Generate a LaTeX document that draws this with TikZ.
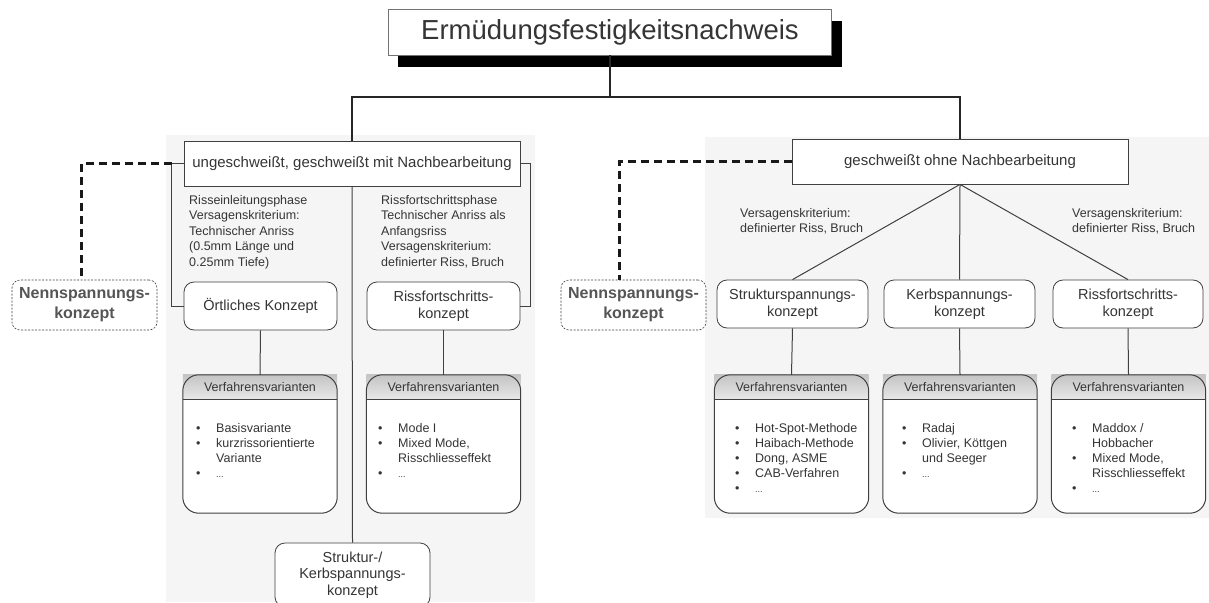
\documentclass[tikz,border=0pt]{standalone}
\usepackage{fontspec}
\setmainfont{Liberation Sans}
\usetikzlibrary{backgrounds}
\definecolor{txt}{HTML}{353535}
\definecolor{linec}{HTML}{404040}
\definecolor{bgc}{HTML}{F5F5F5}
\definecolor{nenc}{HTML}{555555}
\definecolor{hdtop}{HTML}{C4C4C4}
\definecolor{hdbot}{HTML}{E8E8E8}
\newcommand\myfs[2]{\fontsize{#1}{#2}\selectfont}
\newcommand\itm[1]{\makebox[20pt][l]{\textbullet}#1}
\newcommand\cnt[1]{\hspace*{20pt}#1}
\newcommand\etc{{\myfs{9}{15}...}}
\tikzset{
  titlebox/.style={draw=black!55, line width=0.8pt, fill=white, text=txt,
    minimum width=443pt, minimum height=46pt, inner sep=0pt, font=\myfs{27.5}{30}},
  plainbox/.style={draw=linec, line width=0.8pt, fill=white, text=txt, align=center,
    inner sep=0pt, font=\myfs{15}{18}, minimum width=336pt, minimum height=45pt},
  concept/.style={draw=linec, line width=0.8pt, fill=white, text=txt, align=center,
    inner sep=0pt, rounded corners=10pt, font=\myfs{14.5}{16.5}, minimum height=48pt},
  nenn/.style={draw=linec, dash pattern=on 2pt off 1.5pt, line width=0.6pt,
    rounded corners=8pt, fill=white, text=nenc, font=\bfseries\myfs{16}{20},
    align=center, inner sep=0pt, minimum width=145pt, minimum height=50pt},
  conn/.style={draw=linec, line width=1pt},
  thickconn/.style={draw=black!85, line width=2pt},
  dashconn/.style={draw=black!90, line width=2.4pt, dash pattern=on 8pt off 5pt},
  note/.style={text=txt, align=left, inner sep=0pt, anchor=north west, font=\myfs{12.5}{15.5}},
  verf/.style={minimum width=154pt, minimum height=138pt, inner sep=0pt},
  hdtext/.style={text=txt, inner sep=0pt, font=\myfs{12.5}{15}},
  items/.style={text=txt, align=left, inner sep=0pt, anchor=north west, font=\myfs{12.5}{15}}
}
\newcommand\verfbox[4]{%
  \node[verf] (#1) at (#2,444) {};
  \fill[white, rounded corners=16pt] (#1.north west) rectangle (#1.south east);
  \fill[top color=hdtop, bottom color=hdbot] (#1.north west) rectangle ([yshift=-25pt]#1.north east);
  \draw[conn, rounded corners=16pt] (#1.north west) rectangle (#1.south east);
  \draw[conn] ([yshift=-25pt]#1.north west) -- ([yshift=-25pt]#1.north east);
  \node[hdtext] (#1h) at ([yshift=-12.5pt]#1.north) {Verfahrensvarianten};
  \node[items] (#1i) at (#3,423) {#4};
}
\begin{document}
\begin{tikzpicture}[x=1pt,y=-1pt]
\useasboundingbox (0,0) rectangle (1209,602);
\clip (0,0) rectangle (1209,602);
\begin{scope}[on background layer]
  \fill[white] (0,0) rectangle (1209,602);
  \fill[bgc] (166,135) rectangle (535,602);
  \fill[bgc] (705,137) rectangle (1209,518);
\end{scope}

% title
\node[titlebox] (title) at (610,32) {Ermüdungsfestigkeitsnachweis};
\begin{scope}[on background layer]
  \fill[black] ([shift={(10,12)}]title.north west) rectangle ([shift={(10,12)}]title.south east);
\end{scope}
\coordinate (hub) at (610,97);

% second level
\node[plainbox] (ung) at (352,163.5) {ungeschweißt, geschweißt mit Nachbearbeitung};
\node[plainbox] (ohne) at (960,161.5) {geschweißt ohne Nachbearbeitung};

\draw[thickconn] (title.south) -- (hub);
\draw[thickconn] (ung.north) |- (hub) -| (ohne.north);

% Nennspannungs boxes
\node[nenn] (nenn1) at (84.5,305) {Nennspannungs-\\konzept};
\node[nenn] (nenn2) at (633.5,305) {Nennspannungs-\\konzept};

% left notes
\node[note] (noteA) at (189,195) {Risseinleitungsphase\\Versagenskriterium:\\Technischer Anriss\\(0.5mm Länge und\\0.25mm Tiefe)};
\node[note] (noteB) at (381,195) {Rissfortschrittsphase\\Technischer Anriss als\\Anfangsriss\\Versagenskriterium:\\definierter Riss, Bruch};

% left concepts
\node[concept, minimum width=153pt] (oert) at (260.5,306) {Örtliches Konzept};
\node[concept, minimum width=153pt] (riss1) at (443.5,306) {Rissfortschritts-\\konzept};
\node[concept, minimum width=155pt, minimum height=64pt] (sk) at (352.5,575) {Struktur-/\\Kerbspannungs-\\konzept};

% brackets and dashed links
\draw[conn] (ung.west) -- ++(-12,0) coordinate (lb) |- (oert.west);
\draw[conn] (ung.east) -- ++(10,0) |- (riss1.east);
\draw[dashconn] (lb) -| ([xshift=-3pt]nenn1.north);
\draw[dashconn] (ohne.west) -| ([xshift=-14pt]nenn2.north);
\draw[conn] (ung.south) -- (sk.north);

% right notes and concepts
\node[note] (noteC) at (740,208) {Versagenskriterium:\\definierter Riss, Bruch};
\node[note] (noteD) at (1072,208) {Versagenskriterium:\\definierter Riss, Bruch};
\node[concept, minimum width=151pt] (struk) at (792.5,304) {Strukturspannungs-\\konzept};
\node[concept, minimum width=151pt] (kerb) at (959.5,304) {Kerbspannungs-\\konzept};
\node[concept, minimum width=150pt] (riss2) at (1128,304) {Rissfortschritts-\\konzept};
\draw[conn] (ohne.south) -- (struk.north);
\draw[conn] (ohne.south) -- (kerb.north);
\draw[conn] (ohne.south) -- (riss2.north);

% Verfahrensvarianten
\verfbox{v1}{260}{196}{\itm{Basisvariante}\\\itm{kurzrissorientierte}\\\cnt{Variante}\\\itm{\etc}}
\verfbox{v2}{443.5}{378}{\itm{Mode I}\\\itm{Mixed Mode,}\\\cnt{Risschliesseffekt}\\\itm{\etc}}
\verfbox{v3}{791.5}{735}{\itm{Hot-Spot-Methode}\\\itm{Haibach-Methode}\\\itm{Dong, ASME}\\\itm{CAB-Verfahren}\\\itm{\etc}}
\verfbox{v4}{960}{902}{\itm{Radaj}\\\itm{Olivier, Köttgen}\\\cnt{und Seeger}\\\itm{\etc}}
\verfbox{v5}{1128.5}{1072}{\itm{Maddox /}\\\cnt{Hobbacher}\\\itm{Mixed Mode,}\\\cnt{Risschliesseffekt}\\\itm{\etc}}

\draw[conn] (oert.south) -- (v1.north);
\draw[conn] (riss1.south) -- (v2.north);
\draw[conn] (struk.south) -- (v3.north);
\draw[conn] (kerb.south) -- (v4.north);
\draw[conn] (riss2.south) -- (v5.north);
\end{tikzpicture}
\end{document}
